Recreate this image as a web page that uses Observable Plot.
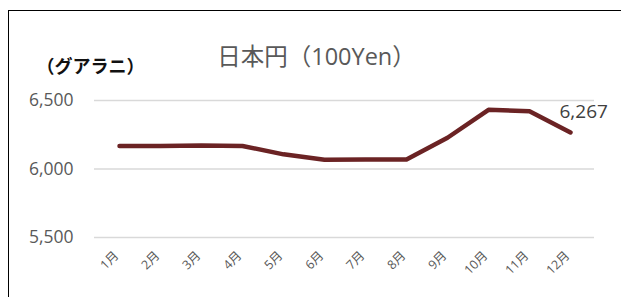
<!DOCTYPE html>
<html><head><meta charset="utf-8">
<script src="https://cdn.jsdelivr.net/npm/d3@7"></script>
<script src="https://cdn.jsdelivr.net/npm/@observablehq/plot@0.6"></script>
<style>
html,body{margin:0;padding:0;background:#fff;overflow:hidden}
#wrap{position:relative;width:621px;height:297px}
#border{position:absolute;left:8px;top:10px;width:700px;height:400px;border-left:1.6px solid #000;border-top:1.6px solid #000;pointer-events:none}
svg{position:absolute;left:0;top:0}
</style></head>
<body><div id="wrap"><div id="border"></div></div>
<script>
const months = ["1月","2月","3月","4月","5月","6月","7月","8月","9月","10月","11月","12月"];
const values = [6167, 6167, 6172, 6168, 6107, 6068, 6069, 6069, 6228, 6432, 6422, 6267];
const yTicks = [5500, 6000, 6500];
const title = "日本円（100Yen）";
const unitLabel = "（グアラニ）";
const data = months.map((m, i) => ({month: m, value: values[i]}));
const last = data[data.length - 1];
const fontFam = "'Open Sans','Noto Sans CJK JP',sans-serif";

const chart = Plot.plot({
  width: 621, height: 297,
  marginLeft: 94, marginRight: 27, marginTop: 100, marginBottom: 60,
  style: {fontFamily: fontFam, background: "transparent", color: "#595959"},
  x: {type: "point", domain: months, padding: 0.5},
  y: {domain: [5500, 6500]},
  marks: [
    Plot.gridY(yTicks, {stroke: "#d9d9d9", strokeOpacity: 1, strokeWidth: 1.5}),
    Plot.axisY(yTicks, {tickSize: 0, tickPadding: 21, fontSize: 17.5, fill: "#595959", tickFormat: d3.format(","), label: null}),
    Plot.axisX({tickSize: 0, tickPadding: 16, dx: -3, tickRotate: -45, fontSize: 12.5, fill: "#595959", label: null}),
    Plot.line(data, {x: "month", y: "value", stroke: "#6b2324", strokeWidth: 4.5, strokeLinecap: "round", strokeLinejoin: "round"}),
    Plot.text([last], {x: "month", y: "value", text: d => d3.format(",")(d.value), textAnchor: "start", dx: -11, dy: -21, fontSize: 19, fill: "#404040"}),
    Plot.text([title], {frameAnchor: "top-left", dx: 222, dy: -52, textAnchor: "middle", fontSize: 23.5, fill: "#595959"}),
    Plot.text([unitLabel], {frameAnchor: "top-left", dx: -4, dy: -40, textAnchor: "middle", fontSize: 18, fontWeight: "bold", fill: "#111"})
  ]
});
document.getElementById("wrap").appendChild(chart);
</script></body></html>
